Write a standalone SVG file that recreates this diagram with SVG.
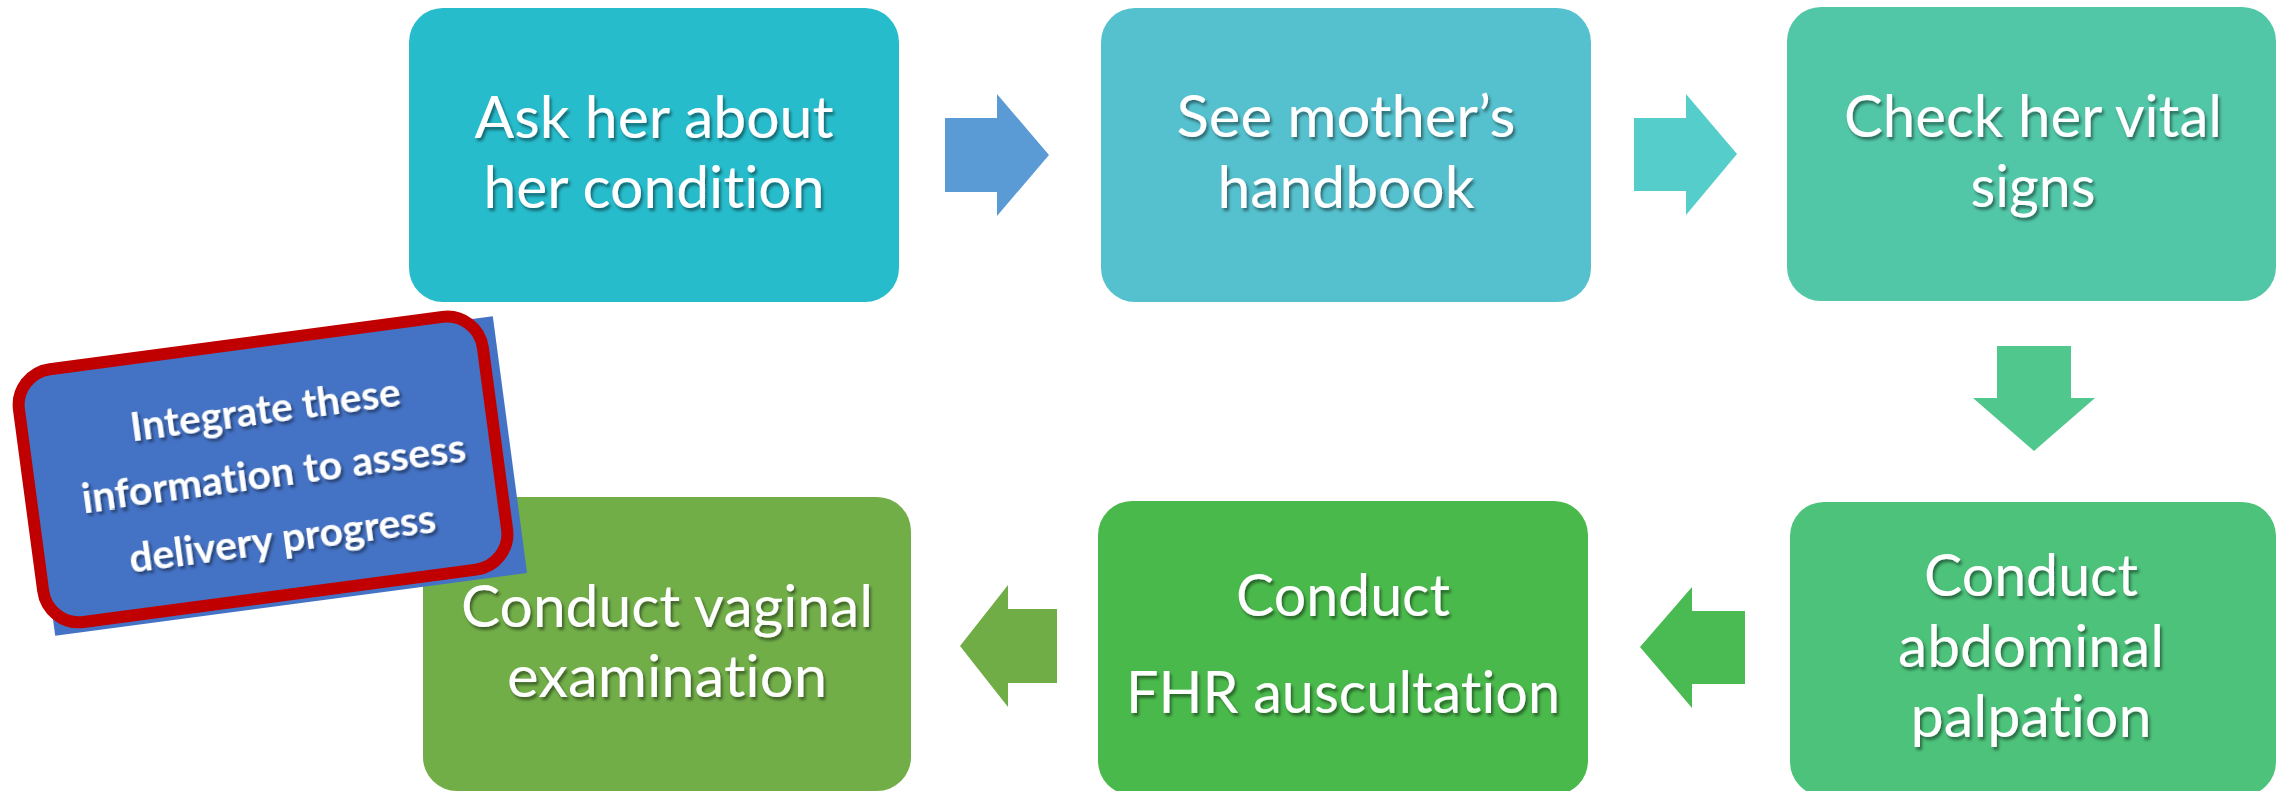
<svg xmlns="http://www.w3.org/2000/svg" width="2276" height="791" viewBox="0 0 2276 791">
<defs>
<filter id="ts" x="-10%" y="-30%" width="130%" height="170%">
<feDropShadow dx="2" dy="3" stdDeviation="1.8" flood-color="#000" flood-opacity="0.45"/>
</filter>
<style>
.lbl{font-family:Lato,"Open Sans","Liberation Sans",sans-serif;font-size:58px;fill:#fff;text-anchor:middle;filter:url(#ts);font-variant-ligatures:none;font-feature-settings:"liga" 0}
.cl{font-family:Lato,"Open Sans","Liberation Sans",sans-serif;font-weight:bold;font-size:41px;fill:#fff;text-anchor:middle;filter:url(#ts);font-variant-ligatures:none;font-feature-settings:"liga" 0}
</style>
</defs>
<rect width="2276" height="791" fill="#fff"/>
<g id="n1">
<rect x="409" y="8" width="490" height="294" rx="34" fill="#26BCCC"/>
<text class="lbl" x="654" y="138" textLength="359" lengthAdjust="spacingAndGlyphs">Ask her about</text>
<text class="lbl" x="654" y="208" textLength="341" lengthAdjust="spacingAndGlyphs">her condition</text>
</g>
<g id="n2">
<rect x="1101" y="8" width="490" height="294" rx="34" fill="#55C1CE"/>
<text class="lbl" x="1346" y="137" textLength="339" lengthAdjust="spacingAndGlyphs">See mother’s</text>
<text class="lbl" x="1346" y="208" textLength="257" lengthAdjust="spacingAndGlyphs">handbook</text>
</g>
<g id="n3">
<rect x="1787" y="7" width="489" height="294" rx="34" fill="#51C7A8"/>
<text class="lbl" x="2033" y="137" textLength="378" lengthAdjust="spacingAndGlyphs">Check her vital</text>
<text class="lbl" x="2033" y="207" textLength="125" lengthAdjust="spacingAndGlyphs">signs</text>
</g>
<g id="n4">
<rect x="1790" y="502" width="486" height="294" rx="34" fill="#4CC27A"/>
<text class="lbl" x="2031" y="596" textLength="214" lengthAdjust="spacingAndGlyphs">Conduct</text>
<text class="lbl" x="2031" y="667" textLength="266" lengthAdjust="spacingAndGlyphs">abdominal</text>
<text class="lbl" x="2031" y="737" textLength="241" lengthAdjust="spacingAndGlyphs">palpation</text>
</g>
<g id="n5">
<rect x="1098" y="501" width="490" height="294" rx="34" fill="#4AB94B"/>
<text class="lbl" x="1343" y="616" textLength="214" lengthAdjust="spacingAndGlyphs">Conduct</text>
<text class="lbl" x="1343" y="713" textLength="434" lengthAdjust="spacingAndGlyphs">FHR auscultation</text>
</g>
<g id="n6">
<rect x="423" y="497" width="488" height="294" rx="34" fill="#71AE48"/>
<text class="lbl" x="667" y="627" textLength="412" lengthAdjust="spacingAndGlyphs">Conduct vaginal</text>
<text class="lbl" x="667" y="697" textLength="320" lengthAdjust="spacingAndGlyphs">examination</text>
</g>
<g id="connectors">
<polygon points="945,118 997,118 997,94 1049,155 997,216 997,192 945,192" fill="#5B9BD5"/>
<polygon points="1634,118 1686,118 1686,94 1737,154 1686,215 1686,191 1634,191" fill="#55CDCB"/>
<polygon points="1997,346 2071,346 2071,398 2095,398 2034,451 1973,398 1997,398" fill="#4FC78D"/>
<polygon points="1745,611 1692,611 1692,587 1640,647 1692,708 1692,684 1745,684" fill="#4ABA52"/>
<polygon points="1057,609 1008,609 1008,585 960,646 1008,707 1008,683 1057,683" fill="#70AD47"/>
</g>
<g id="callout" transform="translate(274,476) rotate(-7.6)">
<rect x="-238" y="-129.5" width="476" height="259" fill="#4472C4"/>
<rect x="-244" y="-135.5" width="468" height="255" rx="36" fill="#4472C4" stroke="#C00000" stroke-width="12"/>
<text class="cl" x="0" y="-53" textLength="272" lengthAdjust="spacingAndGlyphs">Integrate these</text>
<text class="cl" x="0" y="11.5" textLength="387" lengthAdjust="spacingAndGlyphs">information to assess</text>
<text class="cl" x="0" y="77" textLength="309" lengthAdjust="spacingAndGlyphs">delivery progress</text>
</g>
</svg>
